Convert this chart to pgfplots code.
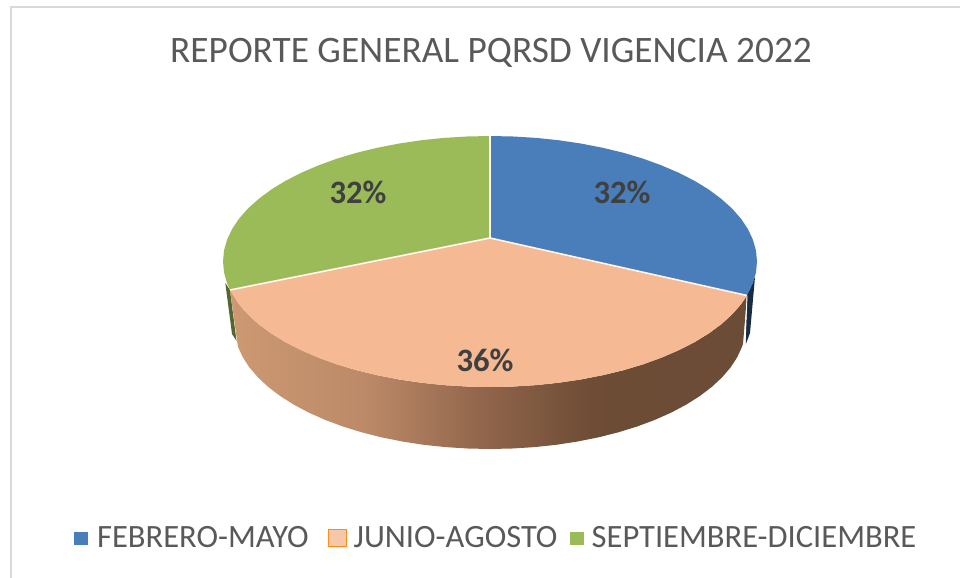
\documentclass[border=0pt]{standalone}
\usepackage{pgfplots}
\usepackage{fontspec}
\setmainfont{Carlito}
\pgfplotsset{compat=1.18}

\definecolor{cblue}{HTML}{4A7EBB}
\definecolor{cpeach}{HTML}{F5B993}
\definecolor{cgreen}{HTML}{9BBB59}
\definecolor{txt}{HTML}{595959}
\definecolor{lab}{HTML}{404040}
\definecolor{frame}{HTML}{D9D9D9}

% side of the peach slice, light on the left, dark on the right
\pgfdeclarehorizontalshading{peachside}{100bp}{
  rgb(0bp)=(0.80,0.60,0.45);
  rgb(25bp)=(0.80,0.60,0.45);
  rgb(38bp)=(0.74,0.54,0.41);
  rgb(50bp)=(0.56,0.39,0.29);
  rgb(60bp)=(0.43,0.30,0.21);
  rgb(75bp)=(0.42,0.30,0.21);
  rgb(100bp)=(0.42,0.30,0.21)}

\begin{document}
\begin{tikzpicture}
\begin{axis}[
  scale only axis, width=720pt, height=433.5pt,
  xmin=0, xmax=960, ymin=0, ymax=578, y dir=reverse,
  hide axis,
  title={\fontsize{28}{30}\selectfont\textcolor{txt}{REPORTE GENERAL PQRSD VIGENCIA 2022}},
  title style={at={(0.5115,0.8944)}, anchor=center, inner sep=0pt},
  legend columns=3,
  legend cell align=left,
  legend style={at={(axis cs:73.7,538)}, anchor=west, draw=none, fill=none, inner sep=0pt,
    font=\fontsize{24.4}{26}\selectfont\color{txt},
    /tikz/every even column/.style={column sep=12.75pt}},
]
% keeps the page at full size, hide axis does not count the box
\addplot[draw=none, forget plot] coordinates {(0,0)(960,578)};

% chart frame, only top and left show
\addplot[frame, line width=1.5pt, forget plot] coordinates {(11,578)(11,7)(960,7)};

% side slivers of the back slices
\addplot[fill=black!45!cgreen, draw=none, forget plot] coordinates {(225.3,283)(230,290)(236.5,341)(232,334)};
\addplot[fill=cblue!35!black, draw=none, forget plot] coordinates {(755,277)(747,293)(745.5,345)(750,333)};

% side of the peach slice
\addplot[shading=peachside, draw=none, forget plot] coordinates {
  (230,290)(239.1,304.4)(248,314.5)(258.8,324.3)(271.3,333.5)(285.5,342.2)(301.2,350.2)(318.4,357.6)(336.8,364.3)
  (356.5,370.2)(377.2,375.2)(398.7,379.4)(420.9,382.7)(443.6,385.1)(466.7,386.5)
  (490,387)(513.3,386.5)(536.4,385.1)(559.1,382.7)(581.3,379.4)(602.8,375.2)(623.5,370.2)(643.2,364.3)(661.6,357.6)
  (678.8,350.2)(694.5,342.2)(708.7,333.5)(721.2,324.3)(732,314.5)(740.9,304.4)(747,295.5)
  (743,344)(742.1,346.5)(737.3,357.1)(730.6,367.4)(722,377.4)(711.7,387)(699.7,396.1)(686.1,404.7)(671,412.7)(654.6,420)
  (636.8,426.6)(618,432.4)(598.2,437.4)(577.6,441.5)(556.3,444.8)(534.5,447.1)(512.3,448.5)
  (490,449)(467.7,448.5)(445.5,447.1)(423.7,444.8)(402.4,441.5)(381.8,437.4)(362,432.4)(343.2,426.6)(325.4,420)
  (309,412.7)(293.9,404.7)(280.3,396.1)(268.3,387)(258,377.4)(249.4,367.4)(242.7,357.1)(237.9,346.5)};

% top faces
\addplot[fill=cblue, draw=none, forget plot] coordinates {
  (490,238)(490,136)(513.3,136.5)(536.4,137.9)(559.1,140.3)(581.3,143.6)(602.8,147.8)(623.5,152.8)(643.2,158.7)
  (661.6,165.4)(678.8,172.8)(694.5,180.8)(708.7,189.5)(721.2,198.8)(732,208.5)(740.9,218.6)(747.9,229)
  (752.9,239.7)(756,250.6)(757,261.5)(756,272.4)(752.9,283.3)(747,295.5)};
\addplot[fill=cpeach, draw=none, forget plot] coordinates {
  (490,238)(747,295.5)(740.9,304.4)(732,314.5)(721.2,324.3)(708.7,333.5)(694.5,342.2)(678.8,350.2)(661.6,357.6)
  (643.2,364.3)(623.5,370.2)(602.8,375.2)(581.3,379.4)(559.1,382.7)(536.4,385.1)(513.3,386.5)
  (490,387)(466.7,386.5)(443.6,385.1)(420.9,382.7)(398.7,379.4)(377.2,375.2)(356.5,370.2)(336.8,364.3)(318.4,357.6)
  (301.2,350.2)(285.5,342.2)(271.3,333.5)(258.8,324.3)(248,314.5)(239.1,304.4)(230,290)};
\addplot[fill=cgreen, draw=none, forget plot] coordinates {
  (490,238)(230,290)(227.1,283.3)(224,272.4)(223,261.5)(224,250.6)(227.1,239.7)(232.1,229)(239.1,218.6)(248,208.5)
  (258.8,198.8)(271.3,189.5)(285.5,180.8)(301.2,172.8)(318.4,165.4)(336.8,158.7)
  (356.5,152.8)(377.2,147.8)(398.7,143.6)(420.9,140.3)(443.6,137.9)(466.7,136.5)(490,136)};

% white slice separators
\addplot[white!85!cpeach, line width=1.2pt, forget plot] coordinates {(490,136)(490,238)};
\addplot[white!85!cpeach, line width=1.2pt, forget plot] coordinates {(230,290)(490,238)(747,295.5)};
\addplot[white, line width=0.7pt, forget plot] coordinates {(747,296)(745,345)};

% data labels
\node[font=\fontsize{24.5}{27}\selectfont\bfseries, text=lab] at (axis cs:622,192) {32\%};
\node[font=\fontsize{24.5}{27}\selectfont\bfseries, text=lab] at (axis cs:485,360) {36\%};
\node[font=\fontsize{24.5}{27}\selectfont\bfseries, text=lab] at (axis cs:358,192) {32\%};

% legend
\addlegendimage{legend image code/.code={\fill[cblue] (0pt,-4.5pt) rectangle (9.5pt,4.5pt); \path (15pt,0pt);}}
\addlegendentry{FEBRERO-MAYO}
\addlegendimage{legend image code/.code={\filldraw[fill=cpeach!80!white, draw=orange!80!cpeach, line width=0.6pt] (0pt,-6.5pt) rectangle (13pt,6.5pt); \path (16.5pt,0pt);}}
\addlegendentry{JUNIO-AGOSTO\kern-5pt}
\addlegendimage{legend image code/.code={\fill[cgreen] (0pt,-4.5pt) rectangle (9.5pt,4.5pt); \path (13.5pt,0pt);}}
\addlegendentry{SEPTIEMBRE-DICIEMBRE}
\end{axis}
\end{tikzpicture}
\end{document}
